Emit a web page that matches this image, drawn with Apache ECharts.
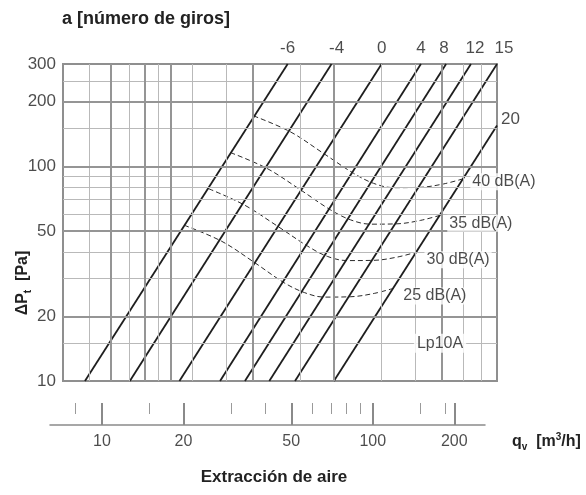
<!DOCTYPE html>
<html><head><meta charset="utf-8">
<script src="https://cdn.jsdelivr.net/npm/echarts@6/dist/echarts.min.js"></script>
<style>html,body{margin:0;padding:0;background:#fff}#c{width:586px;height:495px}</style>
</head><body><div id="c"></div>
<script>
// ---------- data (flow in l/s on the plot, Pa on the vertical axis) ----------
const turnLabels = ['-6', '-4', '0', '4', '8', '12', '15', '20'];
const turnQAt10  = [2.41, 3.53, 5.38, 7.60, 9.39, 11.55, 14.37, 20.0];
const turnQEnd   = [13.5, 19.6, 30.0, 41.9, 51.9, 64.1, 80, 80];
const turnPEnd   = [300, 300, 300, 300, 300, 300, 300, 155];

const noiseLabels = ['40 dB(A)', '35 dB(A)', '30 dB(A)', '25 dB(A)'];
const noise40Q = [10.1, 13.8, 18.3, 23.6, 28.0, 33.1, 41.6, 50.7, 60.1];
const noise40P = [172, 145, 115, 93, 83.4, 79.6, 79.9, 82.8, 87.6];
const noise35Q = [8.3, 11.3, 15.0, 19.4, 23.0, 27.3, 34.2, 41.7, 49.4];
const noise35P = [116, 98, 78, 62.8, 56.4, 53.8, 54.0, 56.0, 59.2];
const noise30Q = [6.9, 9.3, 12.4, 16.0, 18.9, 22.4, 28.1, 34.3, 40.7];
const noise30P = [78.7, 66.3, 52.6, 42.5, 38.1, 36.4, 36.5, 37.8, 40.0];
const noise25Q = [5.6, 7.7, 10.2, 13.1, 15.6, 18.4, 23.1, 28.2, 33.4];
const noise25P = [53.2, 44.8, 35.6, 28.7, 25.8, 24.6, 24.7, 25.6, 27.1];

const lpText = 'Lp10A';
const lpQ = 49.3;
const lpP = 15;

const xGridThin  = [2.5, 3.5, 4.5, 6, 8, 15, 30, 40, 60, 70];
const xGridThick = [3, 4, 5, 10, 20, 50];
const yGridThin  = [15, 30, 40, 60, 70, 80, 90, 150, 250];
const yGridThick = [20, 50, 100, 200];
const yTickLabels = [10, 20, 50, 100, 200, 300];

const qMajorTicks = [10, 20, 50, 100, 200];          // m3/h
const qMinorTicks = [8, 15, 30, 40, 60, 70, 80, 90, 150, 185];

// ---------- styling ----------
const FN = "'Liberation Sans',Arial,Helvetica,sans-serif";
const FB = "'Liberation Sans',Arial,Helvetica,sans-serif";
const INK = '#1e1e1e';
const G_THIN = '#b9b9b9', G_THICK = '#959595';

const chart = echarts.init(document.getElementById('c'));

function vLines(vals, color, width) { return vals.map(v => ({ xAxis: v, lineStyle: { color, width, type: 'solid' } })); }
function hLines(vals, color, width) { return vals.map(v => ({ yAxis: v, lineStyle: { color, width, type: 'solid' } })); }
function markLines(data) {
  return { silent: true, symbol: ['none', 'none'], label: { show: false }, animation: false,
           emphasis: { disabled: true }, data };
}

const series = [];
// plot grid lines
series.push({ type: 'line', xAxisIndex: 0, yAxisIndex: 0, data: [], z: 1, silent: true,
  markLine: markLines([
    ...vLines(xGridThin, G_THIN, 1), ...hLines(yGridThin, G_THIN, 1),
    ...vLines(xGridThick, G_THICK, 2), ...hLines(yGridThick, G_THICK, 2)
  ]) });

// fan curves for each number of turns
const nudge = { '-4': 5, '8': -2, '12': 4, '15': 7 };
turnLabels.forEach((lab, i) => {
  series.push({ type: 'line', xAxisIndex: 0, yAxisIndex: 0, z: 4, silent: true,
    symbol: 'none', animation: false,
    lineStyle: { color: INK, width: 1.8 },
    data: [[turnQAt10[i], 10], [turnQEnd[i], turnPEnd[i]]] });
});
series.push({ type: 'scatter', xAxisIndex: 0, yAxisIndex: 0, z: 6, silent: true, clip: false,
  symbolSize: 0, animation: false,
  data: turnLabels.map((lab, i) => {
    const atTop = turnPEnd[i] >= 300;
    return { value: [turnQEnd[i], turnPEnd[i]],
      label: { show: true, formatter: lab,
        position: atTop ? 'top' : 'right', distance: atTop ? 7 : 4,
        offset: atTop ? [nudge[lab] || 0, 0] : [0, -6],
        fontFamily: FN, fontSize: 17, color: INK } };
  }) });

// iso-noise dashed curves
const noiseQ = [noise40Q, noise35Q, noise30Q, noise25Q];
const noiseP = [noise40P, noise35P, noise30P, noise25P];
noiseLabels.forEach((lab, k) => {
  series.push({ type: 'line', xAxisIndex: 0, yAxisIndex: 0, z: 3, silent: true,
    symbol: 'none', smooth: 0.35, animation: false,
    lineStyle: { color: '#2a2a2a', width: 1, type: [5, 3] },
    data: noiseQ[k].map((q, j) => [q, noiseP[k][j]]) });
});
series.push({ type: 'scatter', xAxisIndex: 0, yAxisIndex: 0, z: 7, silent: true, clip: false,
  symbolSize: 0, animation: false,
  data: noiseLabels.map((lab, k) => {
    const n = noiseQ[k].length - 1;
    return { value: [noiseQ[k][n], noiseP[k][n]],
      label: { show: true, formatter: lab, position: 'right', distance: 7,
        offset: [0, k === 0 ? 3 : 8],
        fontFamily: FN, fontSize: 16, color: INK,
        backgroundColor: '#fff', padding: [1, 2, 0, 2] } };
  }) });

// Lp10A label
series.push({ type: 'scatter', xAxisIndex: 0, yAxisIndex: 0, z: 7, silent: true, clip: false,
  symbolSize: 0, animation: false,
  data: [{ value: [lpQ, lpP], label: { show: true, formatter: lpText, position: 'inside',
    fontFamily: FN, fontSize: 16, color: INK, backgroundColor: '#fff', padding: [2, 3, 1, 3] } }] });

// y tick labels
series.push({ type: 'scatter', xAxisIndex: 0, yAxisIndex: 0, z: 7, silent: true, clip: false,
  symbolSize: 0, animation: false,
  data: yTickLabels.map(v => [2, v]),
  label: { show: true, position: 'left', distance: 7, formatter: p => String(p.value[1]),
    fontFamily: FN, fontSize: 17, color: INK } });

// bottom flow scale (m3/h): long ticks, labels, short ticks
series.push({ type: 'line', xAxisIndex: 1, yAxisIndex: 1, data: [], z: 2, silent: true,
  markLine: markLines(vLines(qMajorTicks, '#8a8a8a', 2)) });
series.push({ type: 'scatter', xAxisIndex: 1, yAxisIndex: 1, z: 7, silent: true, clip: false,
  symbolSize: 0, animation: false,
  data: qMajorTicks.map(v => [v, 0]),
  label: { show: true, position: 'bottom', distance: 9, formatter: p => String(p.value[0]),
    fontFamily: FN, fontSize: 16, color: INK } });
series.push({ type: 'line', xAxisIndex: 2, yAxisIndex: 2, data: [], z: 2, silent: true,
  markLine: markLines(vLines(qMinorTicks, '#9a9a9a', 1)) });

chart.setOption({
  animation: false,
  backgroundColor: '#fff',
  grid: [
    { left: 63, right: 89, top: 64, height: 317, show: true, borderColor: '#8f8f8f', borderWidth: 2, backgroundColor: 'transparent' },
    { left: 50, right: 101, top: 403, height: 22 },
    { left: 50, right: 101, top: 403, height: 11 }
  ],
  xAxis: [
    { type: 'log', logBase: 10, min: 2, max: 80, gridIndex: 0, show: false },
    { type: 'log', logBase: 10, min: 6.43, max: 259.6, gridIndex: 1,
      axisLine: { show: true, lineStyle: { color: '#8a8a8a', width: 1.5 } },
      axisTick: { show: false }, axisLabel: { show: false }, splitLine: { show: false } },
    { type: 'log', logBase: 10, min: 6.43, max: 259.6, gridIndex: 2, show: false }
  ],
  yAxis: [
    { type: 'log', logBase: 10, min: 10, max: 300, gridIndex: 0, show: false },
    { type: 'value', min: 0, max: 1, gridIndex: 1, show: false },
    { type: 'value', min: 0, max: 1, gridIndex: 2, show: false }
  ],
  graphic: [
    { type: 'text', x: 62, y: 19, silent: true,
      style: { text: 'a [número de giros]', fontFamily: FB, fontSize: 18, fontWeight: 'bold', fill: '#222', align: 'left', verticalAlign: 'middle' } },
    { type: 'text', x: 23, y: 283, rotation: Math.PI / 2, silent: true,
      style: { text: '{a|ΔP}{b|t}{a|  [Pa]}', align: 'center', verticalAlign: 'middle', fill: '#222',
        rich: { a: { fontFamily: FB, fontSize: 16, fontWeight: 'bold', lineHeight: 20, fill: '#222' },
                b: { fontFamily: FB, fontSize: 10, fontWeight: 'bold', lineHeight: 10, verticalAlign: 'bottom', fill: '#222' } } } },
    { type: 'text', x: 512, y: 442, silent: true,
      style: { text: '{a|q}{b|v}{a|  [m}{c|3}{a|/h]}', align: 'left', verticalAlign: 'middle', fill: '#222',
        rich: { a: { fontFamily: FB, fontSize: 16, fontWeight: 'bold', lineHeight: 20, fill: '#222' },
                b: { fontFamily: FB, fontSize: 10, fontWeight: 'bold', lineHeight: 10, verticalAlign: 'bottom', fill: '#222' },
                c: { fontFamily: FB, fontSize: 10, fontWeight: 'bold', lineHeight: 10, verticalAlign: 'top', fill: '#222' } } } },
    { type: 'text', x: 274, y: 477, silent: true,
      style: { text: 'Extracción de aire', fontFamily: FB, fontSize: 17, fontWeight: 'bold', fill: '#222', align: 'center', verticalAlign: 'middle' } }
  ],
  series
});
</script>
</body></html>
